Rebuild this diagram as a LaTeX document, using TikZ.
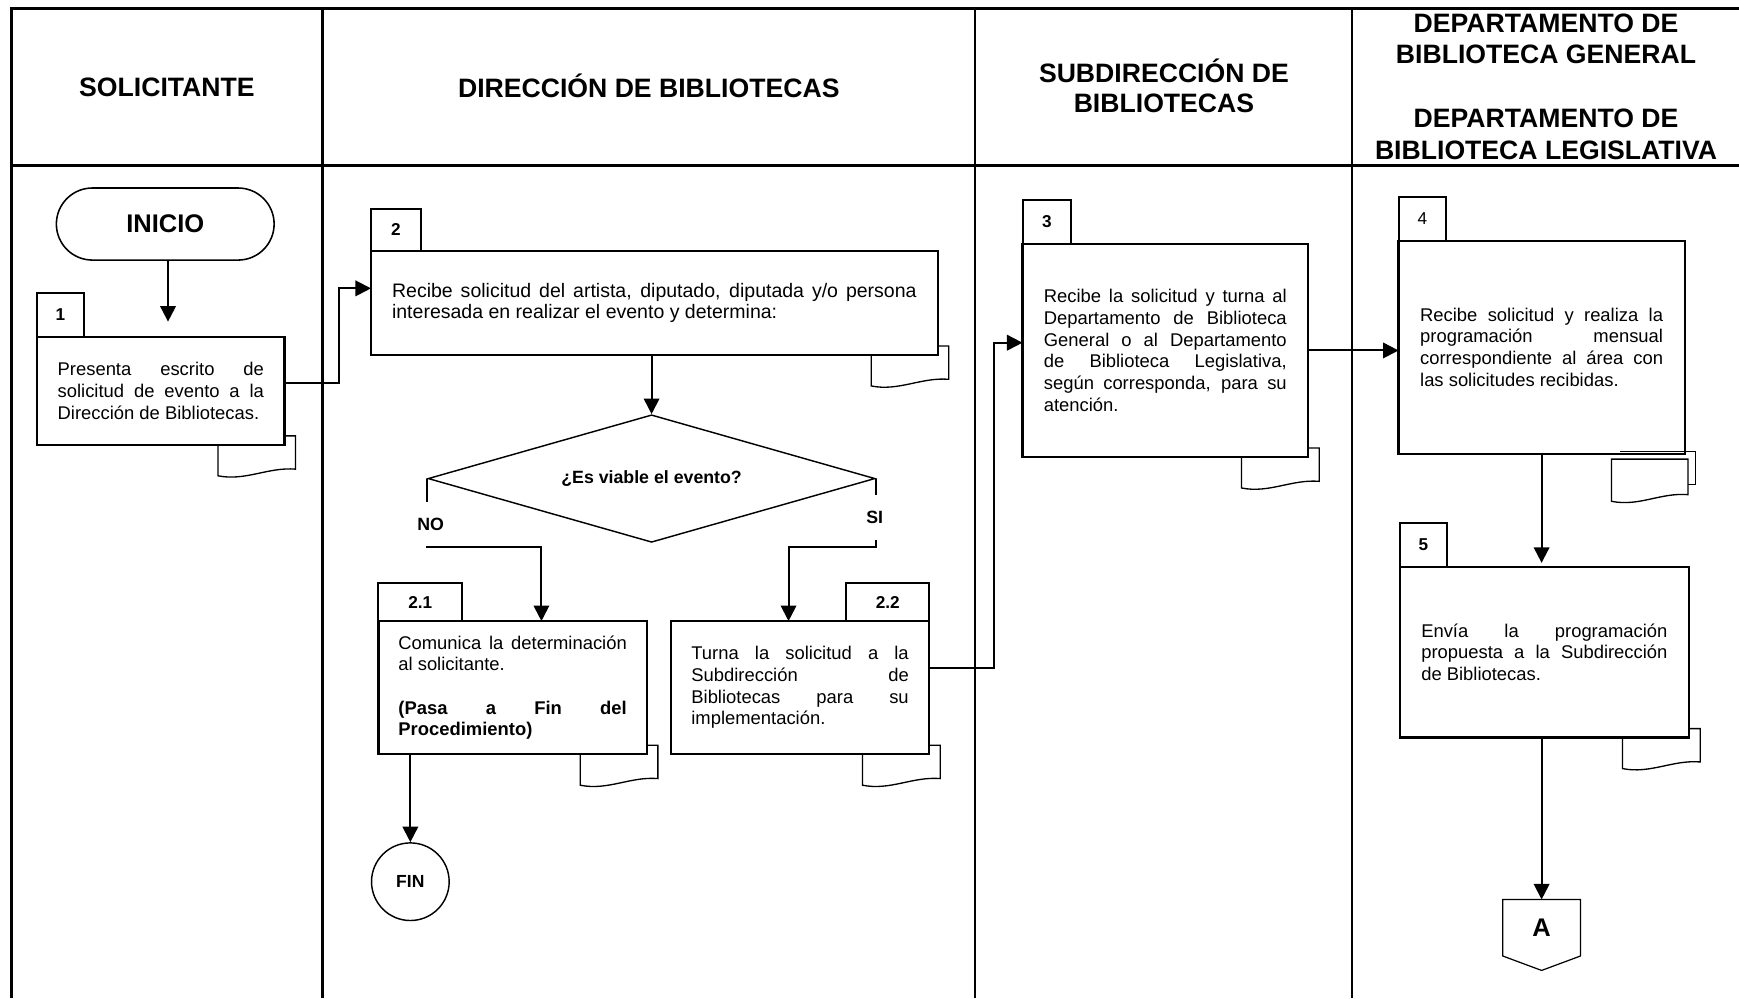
\documentclass[tikz,border=0pt]{standalone}
\usepackage{fontspec}
\setmainfont{Liberation Sans}
\usetikzlibrary{arrows.meta, calc, shapes.geometric, shapes.misc}
\setlength{\parindent}{0pt}
\hbadness=10000
\hyphenpenalty=10000
\tolerance=10000

% document mark under a box
\newcommand{\docmark}[1]{%
  \draw[docline] ($(#1.south east)+(-60,0)$) -- ++(0,28)
    .. controls +(25,5) and +(-25,-2) .. ($(#1.south east)+(10,22)$)
    -- ++(0,-30) -- ++(-10,0);}

\begin{document}
\begin{tikzpicture}[
    x=1pt, y=-1pt,
    lane/.style={line width=2.4pt},
    head/.style={font=\bfseries\fontsize{24}{28.6}\selectfont, align=center},
    stepbox/.style={
        draw,
        line width=2pt,
        fill=white,
        inner sep=0pt,
        outer sep=0pt,
        align=justify,
        font=\fontsize{16.6}{19.5}\selectfont
    },
    num/.style={
        draw,
        line width=1.8pt,
        fill=white,
        inner sep=0pt,
        outer sep=0pt,
        anchor=south west,
        font=\bfseries\fontsize{15.5}{16}\selectfont
    },
    terminal/.style={
        draw,
        rounded rectangle,
        line width=1.4pt,
        minimum width=203pt,
        minimum height=65pt,
        font=\bfseries\fontsize{23}{24}\selectfont
    },
    decision/.style={
        draw,
        diamond,
        aspect=3.5,
        line width=1.3pt,
        minimum width=403pt,
        minimum height=115pt,
        inner sep=0pt,
        font=\bfseries\fontsize{16}{18}\selectfont
    },
    answer/.style={fill=white, inner sep=1pt, minimum height=40pt, font=\bfseries\fontsize{16}{18}\selectfont},
    docline/.style={line width=1.2pt},
    arrow/.style={line width=1.8pt, -{Triangle[length=14pt,width=14pt]}}
]
\useasboundingbox (0,0) rectangle (1568,900);

% lanes and headers
\draw[lane] (10.5,900) -- (10.5,7.5) -- (1568,7.5);
\draw[lane] (10.5,149.5) -- (1568,149.5);
\draw[lane] (291,7.5) -- (291,900);
\draw[lane] (879,7.5) -- (879,900);
\draw[lane] (1219,7.5) -- (1219,900);

\node[head] (h1) at (150.5,79) {SOLICITANTE};
\node[head] (h2) at (585,77) {DIRECCIÓN DE BIBLIOTECAS};
\node[head] (h3) at (1049.5,77) {SUBDIRECCIÓN DE\\[-1.5pt]BIBLIOTECAS};
\node[head] (h4) at (1394,78) {DEPARTAMENTO DE\\BIBLIOTECA GENERAL\\[28.6pt]DEPARTAMENTO DE\\BIBLIOTECA LEGISLATIVA};

% solicitante
\node[terminal] (inicio) at (149,202) {INICIO};
\node[stepbox, minimum width=223pt, minimum height=97pt, text width=186pt] (box1) at (145,352.5)
    {Presenta escrito de\linebreak solicitud de evento a la\linebreak Dirección de Bibliotecas.};
\node[num, minimum width=42pt, minimum height=40pt] (n1) at (box1.north west) {1};

% direccion
\node[stepbox, minimum width=511pt, minimum height=94pt, text width=473pt, font=\fontsize{17.6}{19.5}\selectfont] (box2) at (590,273)
    {Recibe solicitud del artista, diputado, diputada y/o persona\linebreak interesada en realizar el evento y determina:};
\node[num, minimum width=45pt, minimum height=38pt] (n2) at (box2.north west) {2};

\node[decision] (dec) at (587.5,431.5) {¿Es viable el evento?};

\node[stepbox, minimum width=242pt, minimum height=120pt, text width=206pt] (box21) at (462.2,620)
    {Comunica la determinación\linebreak al solicitante.\par\vspace{19.5pt}\textbf{(Pasa a Fin del\linebreak Procedimiento)}};
\node[num, minimum width=75.5pt, minimum height=34pt] (n21) at (box21.north west) {2.1};

\node[stepbox, minimum width=232.7pt, minimum height=120pt, text width=196pt] (box22) at (721.4,620)
    {Turna la solicitud a la\linebreak Subdirección de\linebreak Bibliotecas para su\linebreak implementación.};
\node[num, anchor=south east, minimum width=74.7pt, minimum height=34pt] (n22) at (box22.north east) {2.2};

\node[draw, circle, line width=1.3pt, minimum size=70pt, font=\bfseries\fontsize{15.8}{16}\selectfont] (fin) at (370,795) {FIN};

% subdireccion
\node[stepbox, minimum width=257.5pt, minimum height=192pt, text width=219pt] (box3) at (1050.7,316)
    {Recibe la solicitud y turna al\linebreak Departamento de Biblioteca\linebreak General o al Departamento\linebreak de Biblioteca Legislativa,\linebreak según corresponda, para su\linebreak atención.};
\node[num, minimum width=44pt, minimum height=40pt] (n3) at (box3.north west) {3};

% departamentos
\node[stepbox, minimum width=258pt, minimum height=192pt, text width=219pt] (box4) at (1390,313)
    {Recibe solicitud y realiza la\linebreak programación mensual\linebreak correspondiente al área con\linebreak las solicitudes recibidas.};
\node[num, minimum width=43pt, minimum height=39.5pt, font=\fontsize{15.5}{16}\selectfont] (n4) at (box4.north west) {4};

\node[stepbox, minimum width=261pt, minimum height=154pt, text width=222pt] (box5) at (1392.5,588)
    {Envía la programación\linebreak propuesta a la Subdirección\linebreak de Bibliotecas.};
\node[num, minimum width=43pt, minimum height=39.5pt] (n5) at (box5.north west) {5};

\node[minimum width=70pt, minimum height=51pt, inner sep=0pt, outer sep=0pt, font=\bfseries\fontsize{23}{24}\selectfont] (conA) at (1390,836.5) {A};
\draw[line width=1.1pt] (conA.north west) -- (conA.north east) -- (conA.south east)
    -- ($(conA.south)+(0,13)$) -- (conA.south west) -- cycle;

% document marks
\docmark{box1}
\docmark{box2}
\docmark{box21}
\docmark{box22}
\docmark{box3}
\docmark{box5}
\draw[docline] ($(box4.south east)+(-58,-2)$) -- ++(68,0) -- ++(0,30) -- ++(-7,0);
\draw[docline, fill=white] ($(box4.south east)+(-66,5)$) -- ++(69,0) -- ++(0,32)
    .. controls +(-25,-2) and +(25,5) .. ($(box4.south east)+(-66,43)$) -- cycle;

% connectors
\draw[arrow, shorten >=14pt] ($(inicio.south)+(2.5,0)$) -- ($(inicio.south |- box1.north)+(2.5,0)$);
\draw[arrow] ($(box1.east)+(0,-7)$) -- ++(49,0) |- ($(box2.west)+(0,-13)$);
\draw[arrow] (dec.north |- box2.south) -- (dec.north);
\draw[arrow] (dec.west) -- ++(0,62) -| ($(box21.north)+(26,0)$);
\draw[arrow] (dec.east) -- ++(0,62) -| ($(box22.north)+(-10.4,0)$);
\draw[arrow] (fin |- box21.south) -- (fin.north);
\draw[arrow] ($(box22.east)+(0,-18)$) -- ++(58.3,0) |- ($(box3.west)+(0,-7)$);
\draw[arrow] (box3.east) -- (box3.east -| box4.west);
\draw[arrow, shorten >=3.5pt] (box4.south) -- (box4.south |- box5.north);
\draw[arrow] (conA.north |- box5.south) -- (conA.north);

\node[answer] (no) at ($(dec.west)+(3,41)$) {NO};
\node[answer] (si) at ($(dec.east)+(-1,35)$) {SI};

\end{tikzpicture}
\end{document}
